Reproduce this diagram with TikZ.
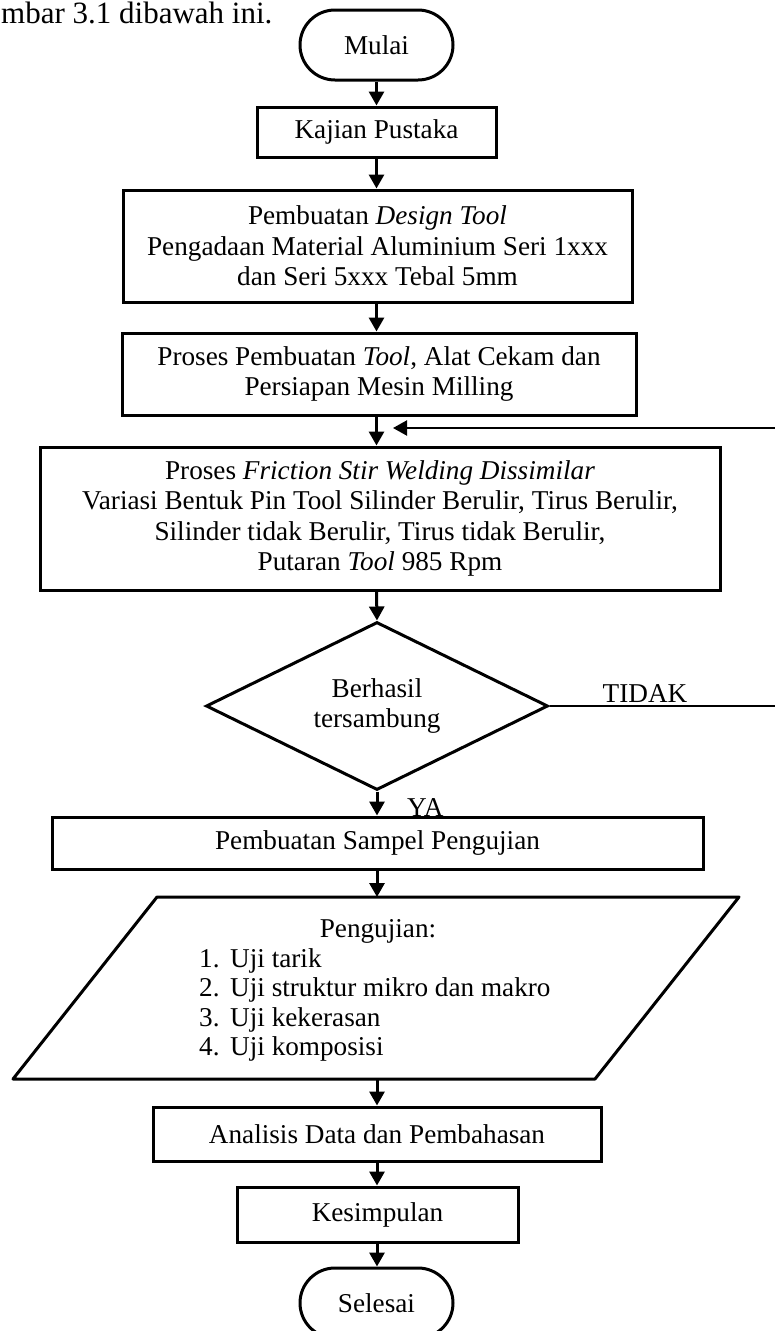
\documentclass[tikz,border=0pt]{standalone}
\usepackage{fontspec}
\setmainfont{Liberation Serif}
\usetikzlibrary{arrows.meta,shapes.geometric}
\newcommand\flowfs{\fontsize{27.2}{30.5}\selectfont}
\begin{document}
\begin{tikzpicture}[x=1pt,y=-1pt,
  box/.style={draw,line width=3pt,rectangle,inner sep=0pt,align=center,font=\flowfs},
  term/.style={box,rounded corners=35pt},
  txt/.style={inner sep=0pt,font=\flowfs},
  arr/.style={line width=3pt,-{Triangle[length=14pt,width=15pt]}},
  thinarr/.style={line width=2.2pt,-{Triangle[length=14pt,width=15pt]}},
  thinln/.style={line width=2.2pt}]
\useasboundingbox (0,0) rectangle (774,1331);
\fill[white] (0,0) rectangle (774,1331);

\node[anchor=base west,inner sep=0pt,font=\fontsize{31}{36}\selectfont] (hd) at (1,23) {mbar 3.1 dibawah ini.};

\node[term,minimum width=153pt,minimum height=70pt] (mulai) at (376.5,45) {Mulai};
\node[box,minimum width=239pt,minimum height=50pt] (kaj) at (376.5,132) {Kajian Pustaka};
\node[box,minimum width=509pt,minimum height=112pt] (des) at (377.5,246) {Pembuatan \textit{Design Tool}\\Pengadaan Material Aluminium Seri 1xxx\\dan Seri 5xxx Tebal 5mm};
\node[box,minimum width=514pt,minimum height=82pt] (pro) at (379,374) {Proses Pembuatan \textit{Tool}, Alat Cekam dan\\Persiapan Mesin Milling};
\node[box,minimum width=680pt,minimum height=143pt] (fsw) at (380,518.5) {Proses \textit{Friction Stir Welding Dissimilar}\\Variasi Bentuk Pin Tool Silinder Berulir, Tirus Berulir,\\Silinder tidak Berulir, Tirus tidak Berulir,\\Putaran \textit{Tool} 985 Rpm};
\node[draw,diamond,aspect=2,line width=3pt,inner sep=0pt,minimum width=342pt,minimum height=168pt,align=center,font=\flowfs] (dec) at (377,706) {Berhasil\\tersambung};
\node[box,minimum width=651pt,minimum height=52pt] (samp) at (377.5,843) {Pembuatan Sampel Pengujian};

% parallelogram
\coordinate (ptl) at (157,897);
\coordinate (ptr) at (739,897);
\coordinate (pbr) at (595,1079);
\coordinate (pbl) at (13,1079);
\coordinate (ptop) at (377,897);
\coordinate (pbot) at (377,1079);
\draw[line width=3pt,line join=round] (ptl) -- (ptr) -- (pbr) -- (pbl) -- cycle;
\node[txt,anchor=base] (p0) at (378,937) {Pengujian:};
\node[txt,anchor=base west] (n1) at (199,967) {1.};
\node[txt,anchor=base west] (t1) at (230,967) {Uji tarik};
\node[txt,anchor=base west] (n2) at (199,996.5) {2.};
\node[txt,anchor=base west] (t2) at (230,996.5) {Uji struktur mikro dan makro};
\node[txt,anchor=base west] (n3) at (199,1026) {3.};
\node[txt,anchor=base west] (t3) at (230,1026) {Uji kekerasan};
\node[txt,anchor=base west] (n4) at (199,1055.5) {4.};
\node[txt,anchor=base west] (t4) at (230,1055.5) {Uji komposisi};

\node[box,minimum width=448pt,minimum height=54pt] (ana) at (377,1134) {Analisis Data dan Pembahasan};
\node[box,minimum width=281pt,minimum height=55pt] (kes) at (377.5,1214.5) {Kesimpulan};
\node[term,minimum width=153pt,minimum height=70pt] (sel) at (376.5,1303) {Selesai};

% arrows
\draw[arr] (mulai.south) -- (kaj.south |- kaj.north);
\draw[arr] (kaj.south) -- (kaj.south |- des.north);
\draw[arr] (kaj.south |- des.south) -- (kaj.south |- pro.north);
\draw[arr] (kaj.south |- pro.south) -- (kaj.south |- fsw.north);
\draw[arr] (kaj.south |- fsw.south) -- (dec.north);
\draw[arr] (dec.south) -- (dec.south |- samp.north);
\draw[arr] (dec.south |- samp.south) -- (ptop);
\draw[arr] (pbot) -- (ana.north);
\draw[arr] (ana.south) -- (ana.south |- kes.north);
\draw[arr] (ana.south |- kes.south) -- (ana.south |- sel.north);

% feedback loop
\coordinate (rc) at (778,706);
\coordinate (fbin) at (393,428);
\draw[thinln] (dec.east) -- (rc);
\draw[thinarr] (rc) |- (fbin);
\node[txt,anchor=base] (tidak) at (645,702) {TIDAK};
\node[txt,anchor=base west] (ya) at (407,816) {YA};
\end{tikzpicture}
\end{document}
